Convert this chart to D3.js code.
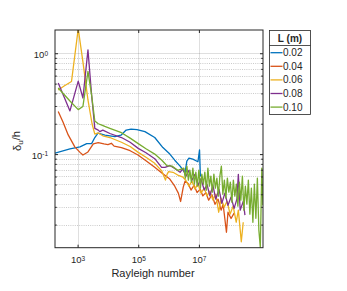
<!DOCTYPE html>
<html>
<head>
<meta charset="UTF-8">
<style>
body { margin: 0; background: #fff; }
text { font-family: "Liberation Sans", Arial, sans-serif; fill: #262626; }
.grid-major { stroke: #262626; stroke-opacity: 0.15; stroke-width: 1; }
.grid-minor { stroke: #262626; stroke-opacity: 0.3; stroke-width: 0.8; stroke-dasharray: 1,1.2; }
.series { fill: none; stroke-width: 1.3; stroke-linejoin: round; }
.axis path, .axis line { stroke: #262626; }
</style>
</head>
<body>
<svg id="chart" width="347" height="291"></svg>
<script src="https://d3js.org/d3.v7.min.js"></script>
<script>

// legend entries and colours (MATLAB default order)
var labels = ["0.02", "0.04", "0.06", "0.08", "0.10"];
var colors = ["#0072BD", "#D95319", "#EDB120", "#7E2F8E", "#77AC30"];

// axis ticks
var xTicks = [1e3, 1e5, 1e7];
var yTicks = [0.1, 1];
var yMinor = [0.02, 0.03, 0.04, 0.05, 0.06, 0.07, 0.08, 0.09,
              0.2, 0.3, 0.4, 0.5, 0.6, 0.7, 0.8, 0.9];

// L = 0.02
var ra02 = [1.8e2, 5.6e2, 1.2e3, 2.0e3, 2.9e3, 3.7e3, 4.7e3, 8.0e3, 1.7e4, 2.7e4,
            4.0e4, 5.8e4, 9.1e4, 1.66e5, 3.5e5, 6.5e5, 1.1e6, 1.6e6, 2.4e6, 3.05e6,
            3.5e6, 4.0e6, 4.7e6, 6.3e6, 9.3e6, 1.05e7, 1.12e7];
var d02 = [0.102, 0.1125, 0.118, 0.127, 0.127, 0.146, 0.161, 0.154, 0.149, 0.154,
           0.173, 0.177, 0.175, 0.167, 0.146, 0.116, 0.100, 0.087, 0.076, 0.069,
           0.065, 0.085, 0.091, 0.089, 0.084, 0.110, 0.060];

// L = 0.04
var ra04 = [2.3e2, 3.3e2, 4.9e2, 8.1e2, 1.2e3, 1.5e3, 2.2e3, 3.3e3, 4.8e3, 7.4e3,
            1.0e4, 1.3e4, 1.6e4, 2.8e4, 5.4e4, 9.8e4, 1.8e5, 3.5e5, 6.0e5, 1.1e6,
            1.6e6, 2.1e6, 2.5e6, 3.05e6, 3.5e6, 4.4e6, 5.5e6, 6.9e6, 8.7e6, 1.1e7,
            1.35e7, 1.7e7, 2.1e7, 2.7e7, 3.4e7, 4.3e7, 5.4e7, 6.3e7, 8.1e7, 9.1e7,
            1.15e8, 1.45e8];
var d04 = [0.265, 0.208, 0.155, 0.118, 0.104, 0.098, 0.105, 0.126, 0.130, 0.126,
           0.124, 0.128, 0.120, 0.116, 0.108, 0.098, 0.086, 0.074, 0.065, 0.0565,
           0.048, 0.041, 0.0339, 0.047, 0.054, 0.051, 0.044, 0.049, 0.0415, 0.045,
           0.0385, 0.0415, 0.0349, 0.0395, 0.0318, 0.0357, 0.0278, 0.0318, 0.0168, 0.0265,
           0.023, 0.026];

// L = 0.06
var ra06 = [2.3e2, 3.6e2, 6.3e2, 1.05e3, 1.5e3, 2.2e3, 3.0e3, 3.7e3, 4.8e3, 6.8e3,
            1.16e4, 2.8e4, 5.4e4, 1.0e5, 1.8e5, 3.5e5, 6.0e5, 7.9e5, 8.9e5, 1.0e6,
            1.4e6, 2.0e6, 3.0e6, 3.7e6, 4.7e6, 5.9e6, 7.4e6, 9.3e6, 1.17e7, 1.5e7,
            1.85e7, 2.3e7, 2.9e7, 3.6e7, 4.5e7, 5.4e7, 6.8e7, 8.5e7, 1.07e8, 1.35e8,
            1.7e8, 2.0e8, 2.5e8, 2.9e8];
var d06 = [0.432, 0.473, 0.525, 1.75, 0.82, 0.344, 0.200, 0.158, 0.162, 0.152,
           0.146, 0.131, 0.119, 0.104, 0.093, 0.081, 0.068, 0.0552, 0.063, 0.067,
           0.066, 0.062, 0.059, 0.055, 0.048, 0.054, 0.045, 0.051, 0.041, 0.046,
           0.0385, 0.043, 0.035, 0.040, 0.0265, 0.0365, 0.0298, 0.034, 0.0254, 0.0305,
           0.0211, 0.0278, 0.0135, 0.0211];

// L = 0.08
var ra08 = [2.3e2, 3.6e2, 5.6e2, 1.05e3, 1.5e3, 2.2e3, 2.9e3, 3.7e3, 4.8e3, 5.4e3,
            6.8e3, 1.16e4, 2.8e4, 5.4e4, 1.0e5, 1.8e5, 3.5e5, 5.9e5, 7.6e5, 1.1e6,
            1.6e6, 2.4e6, 3.0e6, 3.7e6, 4.7e6, 5.9e6, 7.4e6, 9.3e6, 1.17e7, 1.5e7,
            1.85e7, 2.3e7, 2.9e7, 3.6e7, 4.6e7, 5.7e7, 7.2e7, 9.1e7, 1.15e8, 1.45e8,
            1.8e8, 2.0e8, 2.3e8, 2.9e8, 3.3e8];
var d08 = [0.507, 0.368, 0.268, 0.530, 0.360, 1.08, 0.385, 0.180, 0.173, 0.167,
           0.173, 0.160, 0.146, 0.131, 0.114, 0.103, 0.090, 0.074, 0.074, 0.077,
           0.072, 0.066, 0.072, 0.060, 0.069, 0.055, 0.063, 0.049, 0.057, 0.044,
           0.050, 0.0385, 0.049, 0.0357, 0.045, 0.0325, 0.041, 0.031, 0.0375, 0.029,
           0.036, 0.063, 0.0278, 0.034, 0.0248];

// L = 0.10
var ra10 = [2.3e2, 5.6e2, 1.05e3, 1.5e3, 2.2e3, 2.9e3, 3.7e3, 4.8e3, 6.3e3, 7.9e3,
            1.16e4, 2.8e4, 5.4e4, 1.0e5, 1.8e5, 3.5e5, 6.0e5, 8.7e5, 1.3e6, 2.0e6,
            3.2e6, 3.58e6, 4.02e6, 4.5e6, 5.05e6, 5.65e6, 6.33e6, 7.1e6, 7.94e6, 8.9e6,
            1.0e7, 1.12e7, 1.25e7, 1.41e7, 1.57e7, 1.77e7, 1.98e7, 2.22e7, 2.48e7, 2.78e7,
            3.12e7, 3.49e7, 3.92e7, 4.39e7, 4.92e7, 5.51e7, 6.18e7, 6.92e7, 7.76e7, 8.69e7,
            9.73e7, 1.09e8, 1.22e8, 1.37e8, 1.53e8, 1.72e8, 1.93e8, 2.16e8, 2.42e8, 2.72e8,
            3.04e8, 3.41e8, 3.82e8, 4.28e8, 4.8e8, 5.38e8, 6.03e8, 6.75e8, 7.57e8, 8.48e8,
            9.5e8, 1.06e9, 1.19e9, 1.29e9];
var d10 = [0.452, 0.336, 0.276, 0.297, 0.662, 0.385, 0.213, 0.200, 0.194, 0.188,
           0.180, 0.163, 0.144, 0.127, 0.113, 0.100, 0.087, 0.077, 0.076, 0.069,
           0.0726, 0.0578, 0.0760, 0.0552, 0.0694, 0.0527, 0.0726, 0.0504, 0.0663, 0.0481,
           0.0694, 0.0460, 0.0633, 0.0504, 0.0663, 0.0439, 0.0726, 0.0481, 0.0605, 0.0419,
           0.0633, 0.0460, 0.0578, 0.0383, 0.0605, 0.0760, 0.0401, 0.0552, 0.0366, 0.0578,
           0.0419, 0.0527, 0.0334, 0.0552, 0.0383, 0.0504, 0.0305, 0.0527, 0.0349, 0.0605,
           0.0278, 0.0481, 0.0319, 0.0552, 0.0254, 0.0460, 0.0211, 0.0504, 0.0231, 0.0578,
           0.0176, 0.0119, 0.0726, 0.0311];

var series = [[ra02, d02], [ra04, d04], [ra06, d06], [ra08, d08], [ra10, d10]];

// plot box in pixels
var box = {left: 55, top: 30, right: 263, bottom: 247.7};

var svg = d3.select("#chart");

var x = d3.scaleLog().domain([1.8e2, 1.3e9]).range([box.left, box.right]);
var y = d3.scaleLog().domain([0.0118, 1.7]).range([box.bottom, box.top]);

// grid
var grid = svg.append("g");
grid.selectAll("line.ym").data(yMinor).enter().append("line")
    .attr("class", "grid-minor")
    .attr("x1", box.left).attr("x2", box.right)
    .attr("y1", function(d) { return Math.round(y(d)) + 0.5; })
    .attr("y2", function(d) { return Math.round(y(d)) + 0.5; });
grid.selectAll("line.yM").data(yTicks).enter().append("line")
    .attr("class", "grid-major")
    .attr("x1", box.left).attr("x2", box.right)
    .attr("y1", function(d) { return Math.round(y(d)) + 0.5; })
    .attr("y2", function(d) { return Math.round(y(d)) + 0.5; });
grid.selectAll("line.xM").data(xTicks).enter().append("line")
    .attr("class", "grid-major")
    .attr("y1", box.top).attr("y2", box.bottom)
    .attr("x1", function(d) { return Math.round(x(d)) + 0.5; })
    .attr("x2", function(d) { return Math.round(x(d)) + 0.5; });

// data lines
svg.append("clipPath").attr("id", "clip").append("rect")
    .attr("x", box.left).attr("y", box.top)
    .attr("width", box.right - box.left).attr("height", box.bottom - box.top);

var line = d3.line()
    .x(function(d) { return x(d[0]); })
    .y(function(d) { return y(d[1]); });

svg.append("g").attr("clip-path", "url(#clip)")
  .selectAll("path").data(series).enter().append("path")
    .attr("class", "series")
    .attr("stroke", function(d, i) { return colors[i]; })
    .attr("d", function(d) { return line(d3.zip(d[0], d[1])); });

// axes (ticks pointing inwards, MATLAB style)
function supLabels(sel, anchor) {
  sel.selectAll(".tick text").each(function(d) {
    var t = d3.select(this).text("").attr("text-anchor", anchor);
    t.append("tspan").text("10");
    t.append("tspan").attr("dy", "-0.45em").style("font-size", "6.5px")
      .text(String(Math.round(Math.log10(d))));
  });
}

var xAxis = svg.append("g").attr("class", "axis")
    .attr("transform", "translate(0," + box.bottom + ")")
    .call(d3.axisBottom(x).tickValues(xTicks).tickSizeInner(-3).tickSizeOuter(0).tickPadding(9));
xAxis.selectAll("text").style("font-size", "9.5px");
supLabels(xAxis, "middle");

svg.append("g").attr("class", "axis")
    .attr("transform", "translate(0," + box.top + ")")
    .call(d3.axisTop(x).tickValues(xTicks).tickSizeInner(-3).tickSizeOuter(0).tickFormat(""));

var yAxis = svg.append("g").attr("class", "axis")
    .attr("transform", "translate(" + box.left + ",0)")
    .call(d3.axisLeft(y).tickValues(yTicks).tickSizeInner(-3).tickSizeOuter(0).tickPadding(7));
yAxis.selectAll("text").style("font-size", "9.5px").attr("dy", "0.5em");
supLabels(yAxis, "end");
svg.append("g").attr("class", "axis")
    .attr("transform", "translate(" + box.left + ",0)")
    .call(d3.axisLeft(y).tickValues(yMinor).tickSizeInner(-1.8).tickSizeOuter(0).tickFormat(""));
svg.append("g").attr("class", "axis")
    .attr("transform", "translate(" + box.right + ",0)")
    .call(d3.axisRight(y).tickValues(yTicks).tickSizeInner(-3).tickSizeOuter(0).tickFormat(""));
svg.append("g").attr("class", "axis")
    .attr("transform", "translate(" + box.right + ",0)")
    .call(d3.axisRight(y).tickValues(yMinor).tickSizeInner(-1.8).tickSizeOuter(0).tickFormat(""));
svg.selectAll(".axis .domain").remove();

// frame
svg.append("rect")
    .attr("x", box.left).attr("y", box.top)
    .attr("width", box.right - box.left).attr("height", box.bottom - box.top)
    .attr("fill", "none").attr("stroke", "#262626").attr("stroke-width", 1);

// axis titles
svg.append("text")
    .attr("x", 153).attr("y", 277)
    .attr("text-anchor", "middle").style("font-size", "11px")
    .text("Rayleigh number");

var yl = svg.append("text")
    .attr("transform", "translate(21,141) rotate(-90)")
    .attr("text-anchor", "middle").style("font-size", "11px");
yl.append("tspan").text("δ");
yl.append("tspan").attr("dy", "0.3em").style("font-size", "8px").text("u");
yl.append("tspan").attr("dy", "-0.3em").text("/h");

// legend
var lg = svg.append("g");
lg.append("rect")
    .attr("x", 269.5).attr("y", 30.5).attr("width", 41).attr("height", 84)
    .attr("fill", "#fff").attr("stroke", "#262626").attr("stroke-width", 0.8);
lg.append("line")
    .attr("x1", 269.5).attr("x2", 310.5).attr("y1", 45.5).attr("y2", 45.5)
    .attr("stroke", "#262626").attr("stroke-width", 0.8);
lg.append("text")
    .attr("x", 290).attr("y", 42)
    .attr("text-anchor", "middle").style("font-size", "10px").style("font-weight", "bold")
    .text("L (m)");
var item = lg.selectAll("g.item").data(labels).enter().append("g")
    .attr("transform", function(d, i) { return "translate(0," + (52.7 + i * 13.6) + ")"; });
item.append("line")
    .attr("x1", 270.5).attr("x2", 282.5)
    .attr("stroke", function(d, i) { return colors[i]; }).attr("stroke-width", 1.3);
item.append("text")
    .attr("x", 283).attr("dy", "0.35em").style("font-size", "10px")
    .text(function(d) { return d; });

</script>
</body>
</html>
